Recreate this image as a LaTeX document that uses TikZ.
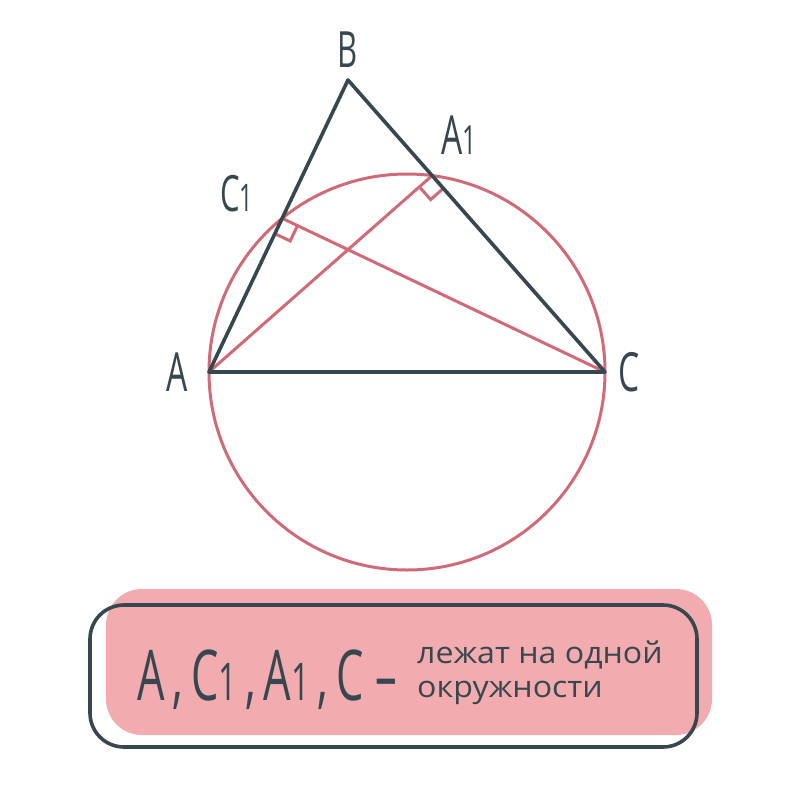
\documentclass[tikz,border=0pt]{standalone}
\usepackage{fontspec}
\setmainfont{Open Sans}
\usetikzlibrary{calc}
\definecolor{ink}{HTML}{37474F}
\definecolor{rose}{HTML}{D06A76}
\definecolor{blush}{HTML}{F2ABAF}
\newcommand\hw[2]{\scalebox{0.62}[1]{\fontsize{#1}{#1}\selectfont #2}}
\newcommand\sub[1]{{\fontsize{#1}{#1}\selectfont 1}}
\begin{document}
\begin{tikzpicture}[x=1pt,y=-1pt,
  side/.style={draw=ink, line width=3.6pt, line join=round, line cap=round},
  alt/.style={draw=rose, line width=3pt, line cap=round},
  lbl/.style={text=ink, inner sep=0pt}]
\useasboundingbox (0,0) rectangle (807,807);
\coordinate (A) at (209,372);
\coordinate (B) at (348,80);
\coordinate (C) at (605,372);
\coordinate (O) at ($(A)!0.5!(C)$);
\coordinate (A1) at ($(B)!(A)!(C)$);
\coordinate (C1) at ($(B)!(C)!(A)$);
% circle
\draw[alt] (O) circle[radius=198pt];
% altitudes
\draw[alt] (A) -- (A1);
\draw[alt] (C) -- (C1);
% right angle marks
\coordinate (pa) at ($(A1)!17pt!(A)$);
\coordinate (qa) at ($(A1)!17pt!(C)$);
\draw[alt, line cap=butt] (pa) -- ($(pa)+(qa)-(A1)$) -- (qa);
\coordinate (pc) at ($(C1)!17pt!(A)$);
\coordinate (qc) at ($(C1)!17pt!(C)$);
\draw[alt, line cap=butt] (pc) -- ($(pc)+(qc)-(C1)$) -- (qc);
% triangle
\draw[side] (A) -- (B) -- (C) -- cycle;
% labels
\node[lbl] (lB) at (348,50) {\hw{50}{B}};
\node[lbl] (lA) at (177,372) {\hw{54}{A}};
\node[lbl] (lC) at (629,372) {\hw{54}{C}};
\node[lbl, anchor=base west] (lA1) at (441,154) {\hw{54}{A\sub{40}}};
\node[lbl, anchor=base west] (lC1) at (220,211) {\hw{50}{C\sub{38}}};
% bottom box
\fill[blush, rounded corners=36pt] (106,589) rectangle (712,735);
\draw[ink, line width=3.6pt, rounded corners=34pt] (90,605) rectangle (697,747);
\node[lbl, anchor=base west] (big) at (137,700)
  {\hw{70}{A\hspace{13pt},\hspace{13pt}C\sub{52}\hspace{13pt},\hspace{13pt}A\sub{52}\hspace{13pt},\hspace{13pt}C\hspace{18pt}–}};
\node[lbl, anchor=base west, align=left, font=\fontsize{30}{34}\selectfont] (txt) at (417,697)
  {\scalebox{1.07}[1]{лежат на одной}\\\scalebox{1.07}[1]{окружности}};
\end{tikzpicture}
\end{document}
